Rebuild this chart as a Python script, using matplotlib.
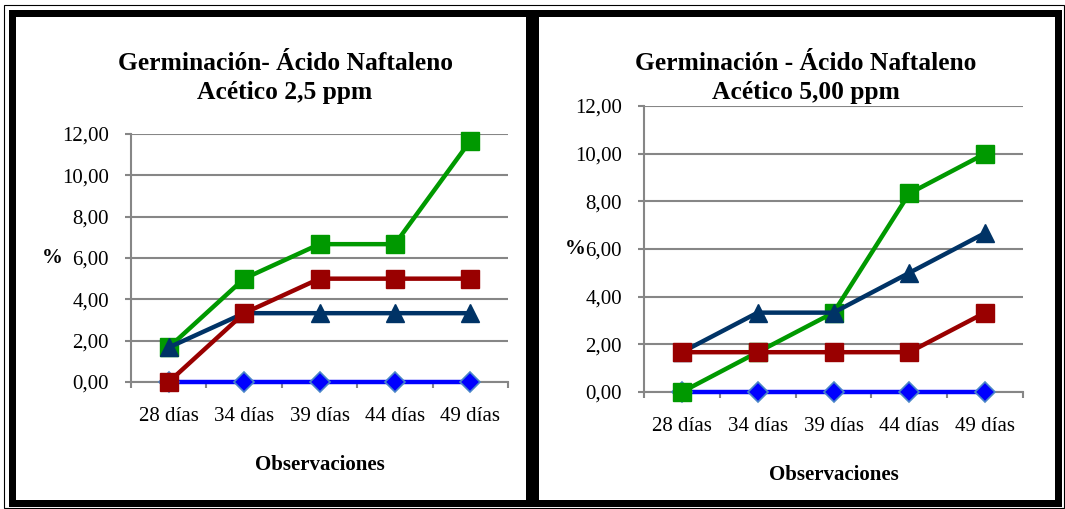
import numpy as np
import matplotlib.pyplot as plt
from matplotlib.patches import Rectangle

plt.rcParams['font.family'] = ['Liberation Serif', 'DejaVu Serif']

dias = ['28 días', '34 días', '39 días', '44 días', '49 días']
marcas_y = [0, 2, 4, 6, 8, 10, 12]

# Ácido Naftaleno Acético 2,5 ppm
azul_25 = [0, 0, 0, 0, 0]
verde_25 = [1.67, 5.00, 6.67, 6.67, 11.67]
oscuro_25 = [1.67, 3.33, 3.33, 3.33, 3.33]
rojo_25 = [0, 3.33, 5.00, 5.00, 5.00]

# Ácido Naftaleno Acético 5,00 ppm
azul_50 = [0, 0, 0, 0, 0]
verde_50 = [0, 1.67, 3.33, 8.33, 10.00]
oscuro_50 = [1.67, 3.33, 3.33, 5.00, 6.67]
rojo_50 = [1.67, 1.67, 1.67, 1.67, 3.33]

titulos = [('Germinación- Ácido Naftaleno', 'Acético 2,5 ppm'),
           ('Germinación - Ácido Naftaleno', 'Acético 5,00 ppm')]

W, H = 1065, 509
fx = lambda x: x / W          # pixel -> fraccion de figura
fy = lambda y: 1 - y / H

fig = plt.figure(figsize=(W / 100, H / 100), dpi=100)

# marcos negros de los dos cuadros
fondo = fig.add_axes([0, 0, 1, 1])
fondo.set_xlim(0, W)
fondo.set_ylim(H, 0)
fondo.axis('off')
fondo.add_patch(Rectangle((3.5, 4.5), 1060, 503, fill=False, lw=0.8, ec='black'))
for x0, x1 in [(11.5, 529), (535, 1058)]:
    fondo.add_patch(Rectangle((x0, 12.5), x1 - x0, 490, fill=False,
                              lw=7 * 0.72, ec='black'))

gris = '#868686'
paneles = [
    dict(pos=(131, 134, 508, 382), series=(azul_25, verde_25, oscuro_25, rojo_25),
         centro=285, pct=52.5, obs=470),
    dict(pos=(644, 106, 1023, 392), series=(azul_50, verde_50, oscuro_50, rojo_50),
         centro=806, pct=575, obs=480),
]

x = np.arange(len(dias))
for p, (linea1, linea2) in zip(paneles, titulos):
    x0, y0, x1, y1 = p['pos']
    ax = fig.add_axes([fx(x0), fy(y1), (x1 - x0) / W, (y1 - y0) / H])
    azul, verde, oscuro, rojo = p['series']

    estilo = dict(lw=3.2, clip_on=False, zorder=3)
    ax.plot(x, azul, color='#0000ff', marker='D', ms=10,
            mec='#4a86c8', mew=1.2, **estilo)
    ax.plot(x, verde, color='#009900', marker='s', ms=12.5, **estilo)
    ax.plot(x, oscuro, color='#003366', marker='^', ms=12.5, **estilo)
    ax.plot(x, rojo, color='#990000', marker='s', ms=12.5, **estilo)

    ax.set_xlim(-0.5, len(dias) - 0.5)
    ax.set_ylim(0, 12)
    ax.set_yticks(marcas_y)
    ax.set_yticklabels([f'{v:.2f}'.replace('.', ',') for v in marcas_y])
    ax.set_xticks(x)
    ax.set_xticklabels(dias)
    ax.set_xticks(np.arange(-0.5, len(dias)), minor=True)
    ax.set_axisbelow(True)
    ax.yaxis.grid(True, color=gris, lw=1.5)

    for lado in ['top', 'right']:
        ax.spines[lado].set_visible(False)
    for lado in ['left', 'bottom']:
        ax.spines[lado].set_color(gris)
        ax.spines[lado].set_linewidth(1.5)

    ax.tick_params(axis='y', length=4, width=1.5, color=gris, pad=12, labelsize=15)
    ax.tick_params(axis='x', which='major', length=0, pad=18, labelsize=15)
    ax.tick_params(axis='x', which='minor', length=4.3, width=1.5, color=gris)

    ax.set_ylabel('%', rotation=0, fontsize=15, fontweight='bold',
                  ha='center', va='center')
    ax.yaxis.set_label_coords((p['pct'] - x0) / (x1 - x0), 0.5)

    fig.text(fx(p['centro']), fy(70), linea1, ha='center', va='baseline',
             fontsize=18.4, fontweight='bold')
    fig.text(fx(p['centro']), fy(99), linea2, ha='center', va='baseline',
             fontsize=18.4, fontweight='bold')
    fig.text(fx((x0 + x1) / 2), fy(p['obs']), 'Observaciones', ha='center',
             va='baseline', fontsize=15, fontweight='bold')

fig.savefig('out.png', dpi=100)
